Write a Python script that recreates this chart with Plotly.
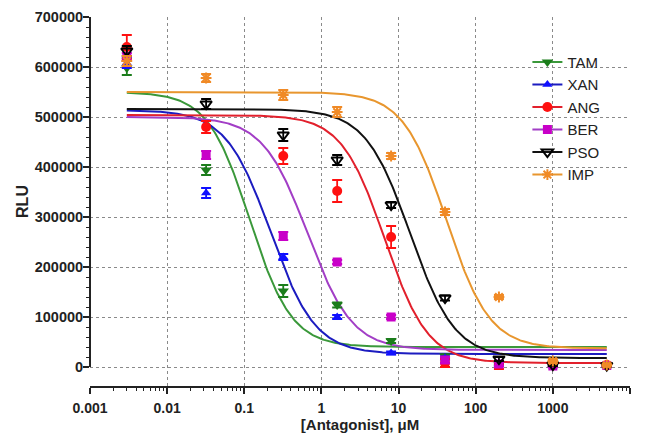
import numpy as np
import plotly.graph_objects as go

# ---------------- data ----------------
conc = [0.003, 0.032, 0.32, 1.6, 8, 40, 200, 1000, 5000]  # µM

series_names = ["TAM", "XAN", "ANG", "BER", "PSO", "IMP"]

TAM = [598000, 394000, 152000, 124000, 52000, 22000, 6000, 3000, 3000]
XAN = [608000, 348000, 220000, 100000, 28000, 18000, 4000, 2000, 2000]
ANG = [640000, 480000, 422000, 352000, 260000, 8000, 4000, 4000, 4000]
BER = [620000, 424000, 262000, 210000, 100000, 14000, 6000, 2000, 3000]
PSO = [632000, 526000, 464000, 414000, 324000, 138000, 16000, 4000, 3000]
IMP = [612000, 578000, 544000, 510000, 422000, 310000, 140000, 12000, 4000]

TAM_err = [14000, 10000, 12000, 5000, 4000, 3000, 2000, 2000, 2000]
XAN_err = [10000, 10000, 6000, 4000, 3000, 3000, 2000, 2000, 2000]
ANG_err = [24000, 12000, 16000, 22000, 22000, 8000, 8000, 3000, 3000]
BER_err = [8000, 8000, 8000, 4000, 4000, 6000, 4000, 2000, 2000]
PSO_err = [10000, 10000, 12000, 10000, 6000, 5000, 4000, 2000, 2000]
IMP_err = [10000, 8000, 10000, 10000, 6000, 6000, 4000, 4000, 3000]

# four-parameter logistic fit parameters
fit_top = [550000, 514000, 504000, 500000, 516000, 550000]
fit_bottom = [40000, 26000, 8000, 34000, 18000, 37000]
fit_logIC50 = [-0.93, -0.66, 0.82, -0.18, 1.15, 1.62]
fit_hill = [1.6, 1.5, 1.55, 1.5, 1.5, 1.55]

y_ticks = [0, 100000, 200000, 300000, 400000, 500000, 600000, 700000]
x_ticks = [0.001, 0.01, 0.1, 1, 10, 100, 1000, 10000]
x_tick_labels = ["0.001", "0.01", "0.1", "1", "10", "100", "1000", "10000"]

# ---------------- styles ----------------
values = [TAM, XAN, ANG, BER, PSO, IMP]
errors = [TAM_err, XAN_err, ANG_err, BER_err, PSO_err, IMP_err]
marker_colors = ["#1b7d1b", "#1010ff", "#ff1010", "#c800c8", "#000000", "#f08a26"]
line_colors = ["#3a983a", "#1c1cc0", "#e2202c", "#a23ec6", "#111111", "#e8962e"]
symbols = ["triangle-down", "triangle-up", "circle", "square", "triangle-down-open", "asterisk-open"]
msizes = [10, 9, 10, 9, 10, 9]

fig = go.Figure()

# fitted curves
xc = np.logspace(np.log10(conc[0]), np.log10(conc[-1]), 400)
for i, name in enumerate(series_names):
    yc = fit_bottom[i] + (fit_top[i] - fit_bottom[i]) / (1 + 10 ** ((np.log10(xc) - fit_logIC50[i]) * fit_hill[i]))
    fig.add_trace(go.Scatter(x=xc, y=yc, mode="lines", showlegend=False,
                             line=dict(color=line_colors[i], width=2), hoverinfo="skip"))

# data points with error bars
for i, name in enumerate(series_names):
    mline = dict(color=marker_colors[i], width=2 if i >= 4 else 0)
    fig.add_trace(go.Scatter(
        x=conc, y=values[i], mode="markers", showlegend=False,
        marker=dict(symbol=symbols[i], size=msizes[i], color=marker_colors[i], line=mline),
        error_y=dict(type="data", array=errors[i], visible=True, color=marker_colors[i],
                     thickness=1.8, width=5),
    ))

# legend entries
for i, name in enumerate(series_names):
    mline = dict(color=marker_colors[i], width=2 if i >= 4 else 0)
    fig.add_trace(go.Scatter(
        x=[None], y=[None], mode="lines+markers", name=name, legendgroup=name,
        line=dict(color=line_colors[i], width=2),
        marker=dict(symbol=symbols[i], size=msizes[i], color=marker_colors[i], line=mline),
    ))

# y-axis line only from 0 to 700000
fig.add_shape(type="line", xref="paper", yref="y", x0=0, x1=0, y0=0, y1=700000,
              line=dict(color="#222222", width=2))

minor_x = [m * 10.0 ** d for d in range(-3, 4) for m in range(2, 10)]
minor_y = [v for v in range(0, 700001, 20000) if v % 100000 != 0]

fig.update_layout(
    width=640, height=427,
    margin=dict(l=82, r=18, t=9, b=49),
    plot_bgcolor="white", paper_bgcolor="white",
    font=dict(family="Liberation Sans, Arial, sans-serif", color="#222222"),
    legend=dict(x=0.81, y=0.922, xanchor="left", yanchor="top",
                font=dict(size=15, color="#222222"), bgcolor="rgba(0,0,0,0)",
                tracegroupgap=0),
    xaxis=dict(
        type="log", range=[-3, 4], automargin=False,
        tickvals=x_ticks, ticktext=x_tick_labels,
        tickfont=dict(size=14, family="Liberation Sans, Arial, sans-serif", weight="bold"),
        ticks="outside", ticklen=6, tickwidth=1.5, tickcolor="#222222",
        ticklabelstandoff=2,
        showline=True, linecolor="#222222", linewidth=2,
        showgrid=True, gridcolor="#8a8a8a", griddash="dot", gridwidth=1,
        minor=dict(tickvals=minor_x, ticks="outside", ticklen=3, tickwidth=1.2,
                   tickcolor="#222222", showgrid=False),
        title=dict(text="[Antagonist], μM", standoff=1,
                   font=dict(size=15, weight="bold")),
        zeroline=False,
    ),
    yaxis=dict(
        range=[-38000, 700000], automargin=False,
        tickvals=y_ticks, ticktext=[str(v) for v in y_ticks],
        tickfont=dict(size=14.5, family="Liberation Sans, Arial, sans-serif", weight="bold"),
        ticks="outside", ticklen=6, tickwidth=1.5, tickcolor="#222222",
        ticklabelstandoff=-3,
        showline=False,
        showgrid=True, gridcolor="#8a8a8a", griddash="dot", gridwidth=1,
        minor=dict(tickvals=minor_y, ticks="outside", ticklen=3, tickwidth=1.2,
                   tickcolor="#222222", showgrid=False),
        title=dict(text="RLU", standoff=2, font=dict(size=16, weight="bold")),
        zeroline=False,
    ),
)

fig.write_html("out.html")
